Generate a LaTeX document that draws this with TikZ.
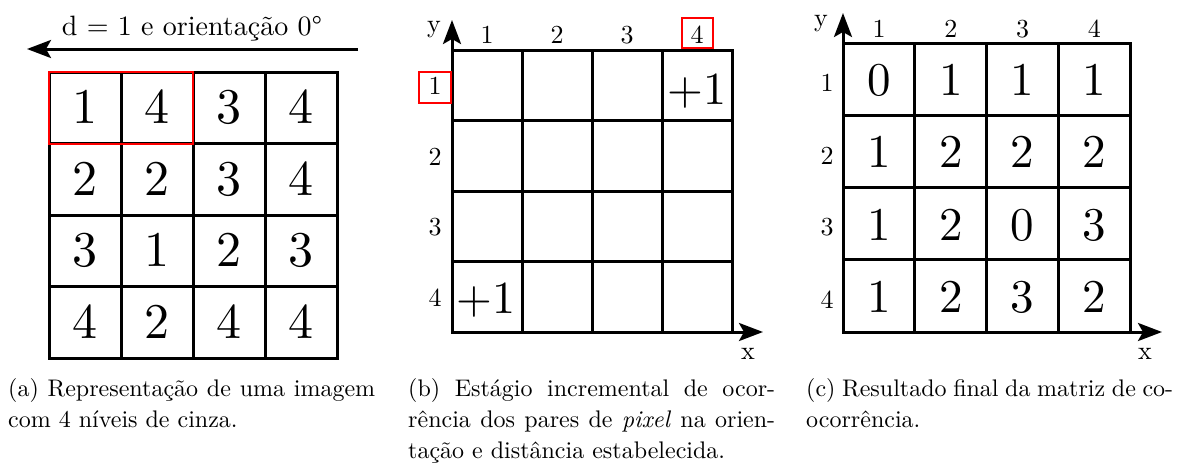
\documentclass[tikz,border=0pt]{standalone}
\usepackage{fontspec}
\setmainfont{lmroman10-regular.otf}[ItalicFont=lmroman10-italic.otf,BoldFont=lmroman10-bold.otf]
\usetikzlibrary{arrows.meta}
\begin{document}
\begin{tikzpicture}[x=1pt,y=-1pt,
  gridline/.style={line width=3pt},
  redbox/.style={draw=red, line width=2.6pt},
  redsmall/.style={draw=red, line width=2pt},
  axis/.style={line width=3pt, -{Stealth[length=24pt,width=18pt,inset=5pt]}},
  bigdigit/.style={font=\fontsize{50}{60}\selectfont, inner sep=0pt, anchor=base},
  plusdigit/.style={font=\fontsize{46}{55}\selectfont, inner sep=0pt, anchor=base},
  celldigit/.style={font=\fontsize{47}{56}\selectfont, inner sep=0pt, anchor=base},
  lbl/.style={font=\fontsize{26}{31}\selectfont, inner sep=0pt},
  captext/.style={font=\fontsize{24}{31}\selectfont, inner sep=0pt, anchor=base west},
  hdr/.style={font=\fontsize{28}{34}\selectfont, inner sep=0pt, anchor=base}]
\useasboundingbox (0,0) rectangle (1179,466);

% ---------------- panel (a) ----------------
\draw[gridline] (49,72) rectangle (337,358);
\foreach \i in {1,2,3} {
  \draw[gridline] ({49+72*\i},72) -- ({49+72*\i},358);
  \draw[gridline] (49,{72+71.5*\i}) -- (337,{72+71.5*\i});
}
\foreach \r/\row in {1/{1,4,3,4},2/{2,2,3,4},3/{3,1,2,3},4/{4,2,4,4}} {
  \foreach \v [count=\c] in \row {
    \node[bigdigit] (a-\r-\c) at ({85+72*(\c-1)},{72+71.5*(\r-0.5)+16}) {\v};
  }
}
\draw[redbox] (49,72) rectangle (193,144);
\node[hdr] (hdrtext) at (192,35) {d = 1 e orientação 0°};
\coordinate (arS) at (358,49);
\coordinate (arE) at (27,49);
\draw[axis] (arS) -- (arE);

% ---------------- panel (b) ----------------
\draw[gridline] (452,50) rectangle (732,332);
\foreach \i in {1,2,3} {
  \draw[gridline] ({452+70*\i},50) -- ({452+70*\i},332);
  \draw[gridline] (452,{50+70.5*\i}) -- (732,{50+70.5*\i});
}
\coordinate (bO) at (452,332);
\coordinate (bY) at (452,20);
\coordinate (bX) at (763,332);
\draw[axis] (bO) -- (bY);
\draw[axis] (bO) -- (bX);
\node[lbl, anchor=base] (by) at (434,32) {y};
\node[lbl, anchor=base] (bx) at (748,359) {x};
\foreach \c in {1,2,3,4} {
  \node[lbl, anchor=base] (bc-\c) at ({487+70*(\c-1)},43) {\c};
  \node[lbl, anchor=center] (br-\c) at (435,{50+70.5*(\c-0.5)+1}) {\c};
}
\draw[redsmall] (682,18) rectangle (713,48);
\draw[redsmall] (419,72) rectangle (451,103);
\node[plusdigit] (bp1) at (697,104) {+1};
\node[plusdigit] (bp2) at (486,313) {+1};

% ---------------- panel (c) ----------------
\draw[gridline] (843,43) rectangle (1130,332);
\foreach \i in {1,2,3} {
  \draw[gridline] ({843+71.75*\i},43) -- ({843+71.75*\i},332);
  \draw[gridline] (843,{43+72.25*\i}) -- (1130,{43+72.25*\i});
}
\coordinate (cO) at (843,332);
\coordinate (cY) at (843,13);
\coordinate (cX) at (1162,332);
\draw[axis] (cO) -- (cY);
\draw[axis] (cO) -- (cX);
\node[lbl, anchor=base] (cy) at (821,26) {y};
\node[lbl, anchor=base] (cx) at (1145,359) {x};
\foreach \c in {1,2,3,4} {
  \node[lbl, anchor=base] (cc-\c) at ({879+71.75*(\c-1)},37) {\c};
  \node[lbl, anchor=center] (cr-\c) at (827,{43+72.25*(\c-0.5)+4}) {\c};
}
\foreach \r/\row in {1/{0,1,1,1},2/{1,2,2,2},3/{1,2,0,3},4/{1,2,3,2}} {
  \foreach \v [count=\c] in \row {
    \node[celldigit] (c-\r-\c) at ({879+71.75*(\c-1)},{43+72.25*(\r-0.5)+16.5}) {\v};
  }
}

% ---------------- captions ----------------
\node[captext] (capa1) at (8,396) {\makebox[367pt][s]{(a) Representação de uma imagem}};
\node[captext] (capa2) at (8,427) {com 4 níveis de cinza.};
\node[captext] (capb1) at (408,396) {\makebox[367pt][s]{(b) Estágio incremental de ocor-}};
\node[captext] (capb2) at (408,427) {\makebox[367pt][s]{rência dos pares de \textit{pixel} na orien-}};
\node[captext] (capb3) at (408,458) {tação e distância estabelecida.};
\node[captext] (capc1) at (806,396) {\makebox[367pt][s]{(c) Resultado final da matriz de co-}};
\node[captext] (capc2) at (806,427) {ocorrência.};
\end{tikzpicture}
\end{document}
